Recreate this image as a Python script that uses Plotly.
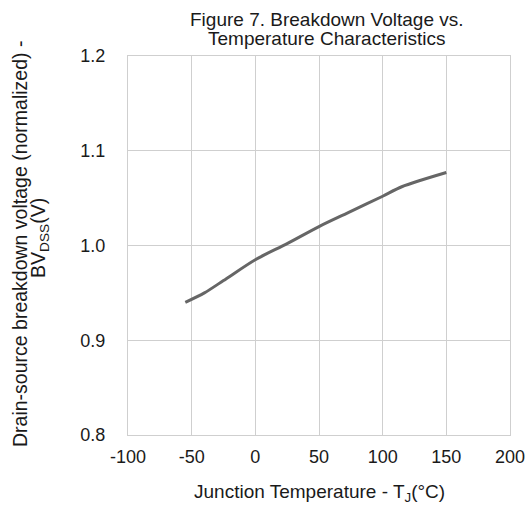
import plotly.graph_objects as go

temp_c = [-55, -40, -25, 0, 25, 50, 75, 100, 115, 150]
bv_norm = [0.940, 0.950, 0.963, 0.985, 1.002, 1.020, 1.036, 1.052, 1.062, 1.077]

x_ticks = [-100, -50, 0, 50, 100, 150, 200]
x_tick_labels = ["-100", "-50", "0", "50", "100", "150", "200"]
y_ticks = [0.8, 0.9, 1.0, 1.1, 1.2]
y_tick_labels = ["0.8", "0.9", "1.0", "1.1", "1.2"]

title_lines = ["Figure 7. Breakdown Voltage vs.", "Temperature Characteristics"]
x_title = "Junction Temperature - T<sub>J</sub>(°C)"
y_title_lines = ["Drain-source breakdown voltage (normalized) -", "BV<sub>DSS</sub>(V)"]

font_family = "Liberation Sans, Arial, sans-serif"
grid_col = "#cfcfcf"
text_col = "#1a1a1a"
W, H = 529, 509

fig = go.Figure()
fig.add_trace(go.Scatter(
    x=temp_c, y=bv_norm, mode="lines",
    line=dict(color="#666666", width=3, shape="spline", smoothing=0.8),
    showlegend=False, hoverinfo="skip",
))

def note(text, x, y, size, angle=0):
    return dict(text=text, xref="paper", yref="paper", x=x, y=y,
                xanchor="center", yanchor="middle", showarrow=False,
                textangle=angle, font=dict(size=size, color=text_col))

fig.update_layout(
    width=W, height=H,
    margin=dict(l=128, r=19, t=56, b=74),
    paper_bgcolor="white", plot_bgcolor="white",
    font=dict(family=font_family, size=18, color=text_col),
    annotations=[
        note(title_lines[0], 0.521, 1.0976, 19),
        note(title_lines[1], 0.521, 1.0449, 19),
        note(x_title, 0.5, -0.153, 19),
        note(y_title_lines[0], -0.2827, 0.504, 19.5, -90),
        note(y_title_lines[1], -0.2304, 0.52, 19.5, -90),
    ],
)
fig.update_xaxes(
    range=[-100, 200], tickvals=x_ticks, ticktext=x_tick_labels,
    showgrid=True, gridcolor=grid_col, gridwidth=1,
    showline=True, linecolor=grid_col, linewidth=1, mirror=True,
    zeroline=False, ticks="", ticklabelstandoff=5,
    ticklabeloverflow="allow", automargin=False,
    tickfont=dict(size=18),
)
fig.update_yaxes(
    range=[0.8, 1.2], tickvals=y_ticks, ticktext=y_tick_labels,
    showgrid=True, gridcolor=grid_col, gridwidth=1,
    showline=True, linecolor=grid_col, linewidth=1, mirror=True,
    zeroline=False, ticks="", ticklabelstandoff=18,
    automargin=False,
    tickfont=dict(size=18),
)

post = (
    "document.documentElement.style.overflow='hidden';"
    "document.body.style.margin='0';document.body.style.overflow='hidden';"
    "var gd=document.getElementById('{plot_id}');"
    f"Plotly.relayout(gd, {{width: {W}, height: {H}}});"
)

fig.write_html("out.html", config={"responsive": False, "displayModeBar": False},
               post_script=post)
